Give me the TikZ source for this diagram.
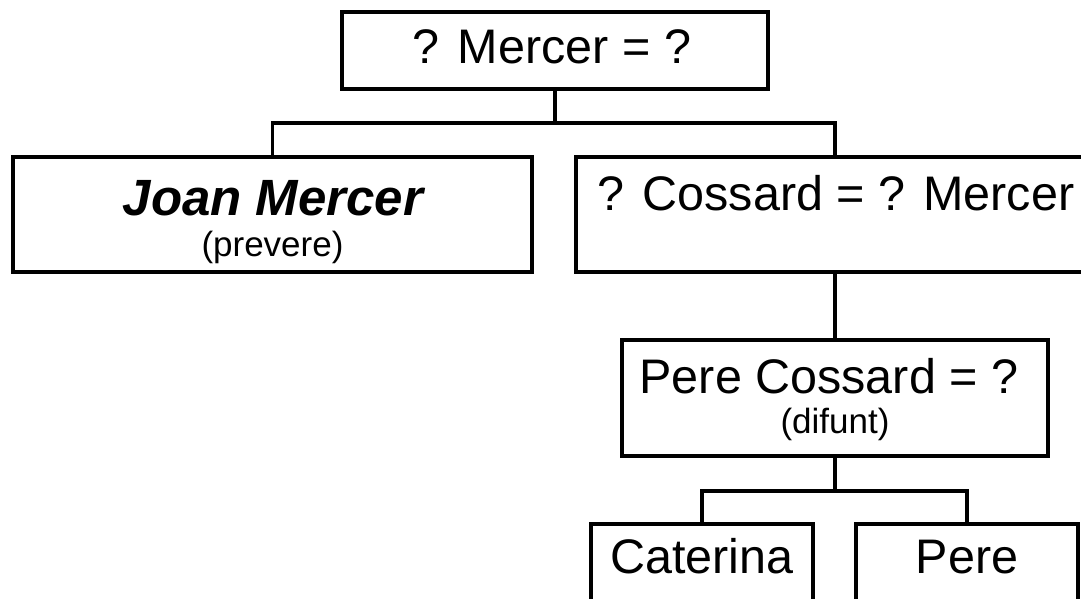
\documentclass[tikz,border=0pt]{standalone}
\usepackage{fontspec}
\setmainfont{Liberation Sans}
\begin{document}
\begin{tikzpicture}[x=1pt,y=-1pt,
  box/.style={draw=black,line width=3.8pt,rectangle,inner sep=0pt,outer sep=0pt,fill=none},
  big/.style={anchor=base,inner sep=0pt,font=\fontsize{48.5}{52}\selectfont},
  small/.style={anchor=base,inner sep=0pt,font=\fontsize{35}{38}\selectfont},
  conn/.style={line width=3.8pt,line cap=rect}]
\useasboundingbox (0,0) rectangle (1081,598);
\clip (0,0) rectangle (1081,598);
\fill[white] (0,0) rectangle (1081,598);
% boxes
\node[box,minimum width=426pt,minimum height=77pt] (top) at (555,50.5) {};
\node[box,minimum width=519pt,minimum height=115pt] (joan) at (272.5,214.5) {};
\node[box,minimum width=518pt,minimum height=115pt] (cos) at (835,214.5) {};
\node[box,minimum width=426pt,minimum height=116pt] (pc) at (835,398) {};
\node[box,minimum width=222pt,minimum height=116pt] (cat) at (702,582) {};
\node[box,minimum width=222pt,minimum height=116pt] (pere) at (967,582) {};
% texts
\node[big] (ttop) at (552,63) {? Mercer = ?};
\node[big,font=\fontsize{51}{54}\selectfont\bfseries\itshape] (tjoan) at (273,215) {Joan Mercer};
\node[small] (tprev) at (272.5,256) {(prevere)};
\node[big] (tcos) at (836,210) {? Cossard = ? Mercer};
\node[big] (tpc) at (829,393) {Pere Cossard = ?};
\node[small] (tdif) at (835,433) {(difunt)};
\node[big] (tcat) at (702,573) {Caterina};
\node[big] (tpere) at (967,573) {Pere};
% connectors
\coordinate (j1) at (555,123);
\coordinate (j2) at (835,491);
\draw[conn] (top.south) -- (j1);
\draw[conn] (joan.north) |- (j1) -| (cos.north);
\draw[conn] (cos.south) -- (pc.north);
\draw[conn] (pc.south) -- (j2);
\draw[conn] (cat.north) |- (j2) -| (pere.north);
\end{tikzpicture}
\end{document}
